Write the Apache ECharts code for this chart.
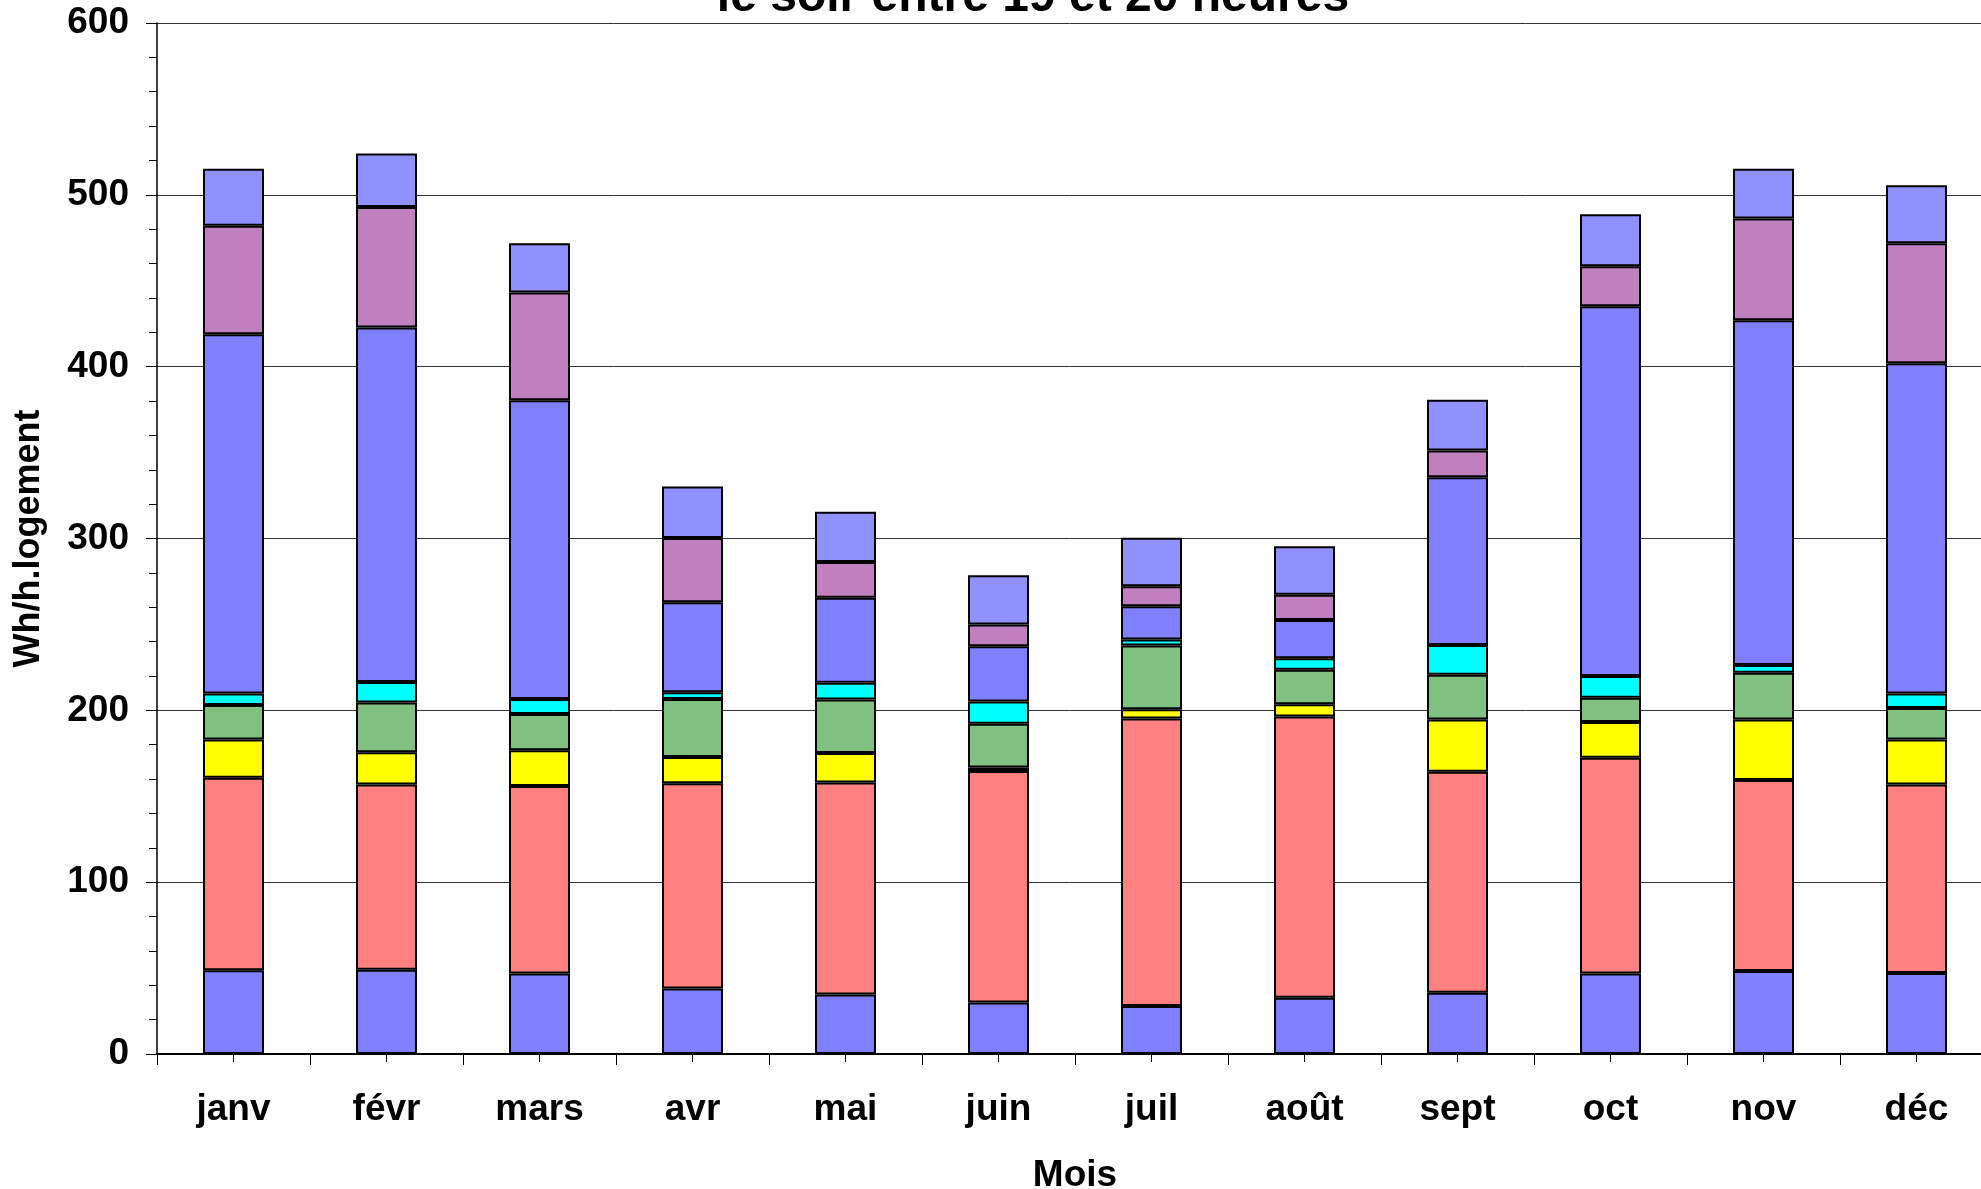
<!DOCTYPE html>
<html>
<head>
<meta charset="utf-8">
<script src="https://cdn.jsdelivr.net/npm/echarts@6/dist/echarts.min.js"></script>
<style>
  html, body { margin: 0; padding: 0; background: #fff; }
  #chart { width: 1981px; height: 1189px; }
</style>
</head>
<body>
<div id="chart"></div>
<script>
// données (Wh/h.logement)
const mois = ["janv", "févr", "mars", "avr", "mai", "juin", "juil", "août", "sept", "oct", "nov", "déc"];
const yTicks = [0, 100, 200, 300, 400, 500, 600];

const serie1 = [48.7, 49, 46.9, 38.1, 34.6, 30, 27.9, 32.8, 35.6, 46.9, 48.3, 47.2];
const serie2 = [112.1, 107.9, 109, 119.5, 123.4, 134.7, 167.4, 163.6, 128.7, 125.5, 111.1, 109.7];
const serie3 = [22.2, 18.7, 20.8, 15.2, 17.2, 2.1, 5.3, 7.1, 30.3, 20.8, 35.2, 26.1];
const serie4 = [20.1, 28.9, 21.1, 33.8, 31.1, 25.4, 37.1, 20.1, 26.1, 14.1, 27.2, 18.3];
const serie5 = [6.7, 12, 8.8, 3.9, 9.8, 13, 3.5, 6.7, 17.3, 12.7, 4.6, 8.5];
const serie6 = [209.1, 206.3, 173.9, 52.4, 49.4, 32.1, 19.4, 22.2, 97.7, 215.1, 200.6, 192.2];
const serie7 = [63.1, 70.1, 62.7, 37.4, 20.8, 12.7, 11.6, 14.8, 15.5, 23.3, 59.2, 69.8];
const serie8 = [33.2, 31.1, 28.6, 30, 29.3, 28.6, 28.2, 28.2, 29.6, 30.3, 29, 33.8];

const series = [serie1, serie2, serie3, serie4, serie5, serie6, serie7, serie8];
const couleurs = ["#8080ff", "#ff8080", "#ffff00", "#80c080", "#00ffff", "#8080ff", "#c080c0", "#9090ff"];

const police = "'Liberation Sans', Arial, sans-serif";

let chartDom = document.getElementById("chart");
let myChart = echarts.init(chartDom);

let option = {
  animation: false,
  backgroundColor: "#fff",
  title: {
    text: "le soir entre 19 et 20 heures",
    left: 1028,
    textAlign: "center",
    top: -31,
    textStyle: { fontFamily: police, fontSize: 48, fontWeight: "bold", color: "#000" }
  },
  grid: { left: 157, right: -12, top: 23, bottom: 135, outerBoundsMode: "none" },
  xAxis: [
    {
      type: "category",
      data: mois,
      name: "Mois",
      nameLocation: "middle",
      nameGap: 103,
      nameTextStyle: { fontFamily: police, fontSize: 37, fontWeight: "bold", color: "#000" },
      axisLine: { lineStyle: { color: "#000", width: 2 } },
      axisTick: { show: true, length: 11, lineStyle: { color: "#000", width: 1 } },
      axisLabel: { margin: 37, fontFamily: police, fontSize: 37, fontWeight: "bold", color: "#000" }
    },
    {
      // petites graduations au centre des catégories
      type: "category",
      data: mois,
      position: "bottom",
      axisLine: { show: false },
      axisTick: { show: true, alignWithLabel: true, length: 8, lineStyle: { color: "#000", width: 1 } },
      axisLabel: { show: false }
    }
  ],
  yAxis: {
    type: "value",
    min: yTicks[0],
    max: yTicks[yTicks.length - 1],
    interval: 100,
    name: "Wh/h.logement",
    nameLocation: "middle",
    nameRotate: 90,
    nameGap: 110,
    nameTextStyle: { fontFamily: police, fontSize: 36, fontWeight: "bold", color: "#000" },
    axisLine: { show: true, lineStyle: { color: "#000", width: 1.5 } },
    axisTick: { show: true, length: 11, lineStyle: { color: "#000", width: 1 } },
    minorTick: { show: true, splitNumber: 5, length: 8, lineStyle: { color: "#000", width: 1 } },
    axisLabel: { margin: 28, fontFamily: police, fontSize: 37, fontWeight: "bold", color: "#000" },
    splitLine: { show: true, lineStyle: { color: "#333", width: 1 } }
  },
  series: series.map((vals, i) => ({
    name: "s" + (i + 1),
    type: "bar",
    stack: "total",
    xAxisIndex: 0,
    barWidth: 61,
    data: vals,
    itemStyle: { color: couleurs[i], borderColor: "#000", borderWidth: 2 }
  }))
};

option && myChart.setOption(option);
</script>
</body>
</html>
